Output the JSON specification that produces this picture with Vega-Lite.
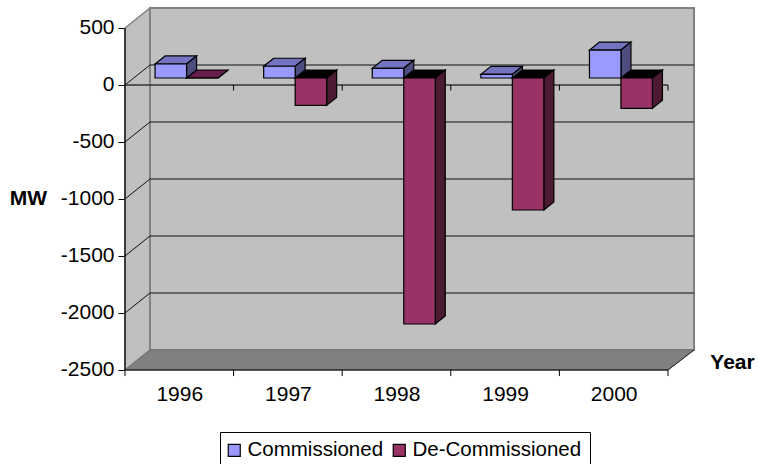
{
"$schema":"https://vega.github.io/schema/vega-lite/v6.json",
"width":758,"height":464,"autosize":"none","padding":0,"background":"white",
"view":{"stroke":null},
"config":{"font":"Liberation Sans","axis":{"grid":false}},
"datasets":{
"one":[{"note":"frame"}],
"bars":[
{"year":1996,"series":"Commissioned","value":123},{"year":1996,"series":"De-Commissioned","value":0},
{"year":1997,"series":"Commissioned","value":103},{"year":1997,"series":"De-Commissioned","value":-240},
{"year":1998,"series":"Commissioned","value":85},{"year":1998,"series":"De-Commissioned","value":-2158},
{"year":1999,"series":"Commissioned","value":32},{"year":1999,"series":"De-Commissioned","value":-1158},
{"year":2000,"series":"Commissioned","value":245},{"year":2000,"series":"De-Commissioned","value":-266}],
"grid":[{"v":0},{"v":-500},{"v":-1000},{"v":-1500},{"v":-2000}],
"xticks":[{"t":1995.5},{"t":1996.5},{"t":1997.5},{"t":1998.5},{"t":1999.5},{"t":2000.5}]
},
"layer":[
{"data":{"values":[{"px":1995.5,"hi":500,"lo":-2500},{"px":1995.73,"hi":675.4,"lo":-2324.6}]},
 "mark":{"type":"area","color":"#c0c0c0","stroke":"#808080","strokeWidth":1.5},
 "encoding":{
  "x":{"field":"px","type":"quantitative","scale":{"domain":[1994.349,2001.329],"nice":false,"zero":false},
   "axis":{"values":[1996,1997,1998,1999,2000],"format":"d","offset":-94,"domain":false,"ticks":false,"grid":false,"labelFontSize":21,"labelPadding":13,"labelColor":"#000","labelFont":"Liberation Sans",
    "title":"Year","titleFont":"Liberation Sans","titleFontSize":21,"titleFontWeight":"bold","titleColor":"#000","titleX":732,"titleY":-8,"titleAlign":"center","titleBaseline":"middle"}},
  "y":{"field":"lo","type":"quantitative","stack":null,"scale":{"domain":[-3324.6,745.6],"nice":false,"zero":false},
   "axis":{"values":[500,0,-500,-1000,-1500,-2000,-2500],"labelExpr":"datum.value+''","offset":-125,"domain":false,"grid":false,"tickSize":7,"tickColor":"#000","labelFontSize":21,"labelPadding":4,"labelColor":"#000","labelFont":"Liberation Sans",
    "title":"MW","titleFont":"Liberation Sans","titleFontSize":21,"titleFontWeight":"bold","titleColor":"#000","titleAngle":0,"titleX":-97,"titleY":198,"titleAlign":"center","titleBaseline":"middle"}},
  "y2":{"field":"hi"}}},
{"data":{"name":"one"},"mark":{"type":"rect","color":"#c0c0c0","stroke":"#808080","strokeWidth":2},
 "encoding":{"x":{"datum":1995.73,"type":"quantitative"},"x2":{"datum":2000.74},"y":{"datum":-2324.6,"type":"quantitative"},"y2":{"datum":675.4}}},
{"data":{"values":[{"py":-2500,"a":1995.5,"b":2000.5},{"py":-2324.6,"a":1995.73,"b":2000.74}]},
 "mark":{"type":"area","orient":"horizontal","color":"#808080","stroke":"#707070","strokeWidth":1},
 "encoding":{"y":{"field":"py","type":"quantitative"},"x":{"field":"a","type":"quantitative","stack":null},"x2":{"field":"b"}}},
{"data":{"name":"grid"},"transform":[{"calculate":"datum.v+175.4","as":"vb"}],
 "layer":[
 {"mark":{"type":"rule","color":"#111","strokeWidth":1.2},
  "encoding":{"x":{"datum":1995.73,"type":"quantitative"},"x2":{"datum":2000.74},"y":{"field":"vb","type":"quantitative"}}},
 {"mark":{"type":"rule","color":"#111","strokeWidth":1},
  "encoding":{"x":{"datum":1995.5,"type":"quantitative"},"x2":{"datum":1995.73},"y":{"field":"v","type":"quantitative"},"y2":{"field":"vb"}}}
 ]},
{"data":{"name":"one"},"mark":{"type":"rule","color":"#333","strokeWidth":1.4},
 "encoding":{"x":{"datum":1995.5,"type":"quantitative"},"x2":{"datum":2000.5},"y":{"datum":0,"type":"quantitative"}}},
{"data":{"name":"one"},"mark":{"type":"rule","color":"#000","strokeWidth":1.2},
 "encoding":{"x":{"datum":1995.5,"type":"quantitative"},"x2":{"datum":2000.5},"y":{"datum":-2500,"type":"quantitative"}}},
{"data":{"name":"one"},"mark":{"type":"rule","color":"#000","strokeWidth":1.2},
 "encoding":{"x":{"datum":1995.5,"type":"quantitative"},"y":{"datum":-2500,"type":"quantitative"},"y2":{"datum":500}}},
{"data":{"name":"one"},"mark":{"type":"rule","color":"#222","strokeWidth":1},
 "encoding":{"x":{"datum":2000.5,"type":"quantitative"},"x2":{"datum":2000.74},"y":{"datum":-2500,"type":"quantitative"},"y2":{"datum":-2324.6}}},
{"data":{"name":"xticks"},
 "layer":[
 {"mark":{"type":"rule","color":"#000","strokeWidth":1},
  "encoding":{"x":{"field":"t","type":"quantitative"},"y":{"datum":-2500,"type":"quantitative"},"y2":{"datum":-2553}}},
 {"transform":[{"filter":"datum.t>1996"}],"mark":{"type":"rule","color":"#000","strokeWidth":1},
  "encoding":{"x":{"field":"t","type":"quantitative"},"y":{"datum":0,"type":"quantitative"},"y2":{"datum":-48}}}
 ]},
{"data":{"name":"bars"},
 "transform":[
  {"calculate":"datum.year+0.067-(datum.series==='Commissioned'?0.29:0)","as":"x0"},
  {"calculate":"[0,1]","as":"d"},{"flatten":["d"]},
  {"calculate":"datum.x0+datum.d*0.0921","as":"xa"},
  {"calculate":"datum.x0+0.29+datum.d*0.0921","as":"xb"},
  {"calculate":"min(datum.value,0)+61.4+datum.d*70.2","as":"lo"},
  {"calculate":"max(datum.value,0)+61.4+datum.d*70.2","as":"hi"}],
 "layer":[
 {"mark":{"type":"area","orient":"horizontal","stroke":"#000","strokeWidth":1.2},
  "encoding":{"y":{"field":"hi","type":"quantitative"},"x":{"field":"xa","type":"quantitative","stack":null},"x2":{"field":"xb"},
   "detail":[{"field":"year"},{"field":"series"}],
   "fill":{"condition":[{"test":"datum.series==='Commissioned'","value":"#7373bf"},{"test":"datum.value===0","value":"#661f4d"}],"value":"#000000"}}},
 {"mark":{"type":"area","stroke":"#000","strokeWidth":1.2},
  "encoding":{"x":{"field":"xb","type":"quantitative"},"y":{"field":"lo","type":"quantitative","stack":null},"y2":{"field":"hi"},
   "detail":[{"field":"year"},{"field":"series"}],
   "fill":{"condition":{"test":"datum.series==='Commissioned'","value":"#4d4d80"},"value":"#4d1a33"}}},
 {"transform":[{"filter":"datum.d===0"}],
  "mark":{"type":"rect","stroke":"#000","strokeWidth":1.2},
  "encoding":{"x":{"field":"xa","type":"quantitative"},"x2":{"field":"xb"},"y":{"field":"lo","type":"quantitative"},"y2":{"field":"hi"},
   "color":{"field":"series","type":"nominal","scale":{"domain":["Commissioned","De-Commissioned"],"range":["#9999ff","#993366"]},
    "legend":{"orient":"none","legendX":220,"legendY":432,"direction":"horizontal","title":null,"fillColor":"#fff","strokeColor":"#000","padding":8,"symbolType":"square","symbolSize":144,"symbolOffset":-4,"symbolStrokeColor":"#000","symbolStrokeWidth":1.2,"symbolOpacity":1,"labelFontSize":20.5,"labelFont":"Liberation Sans","labelColor":"#000","labelOffset":3,"columnPadding":6,"labelLimit":300}}}}
 ]}
]}
